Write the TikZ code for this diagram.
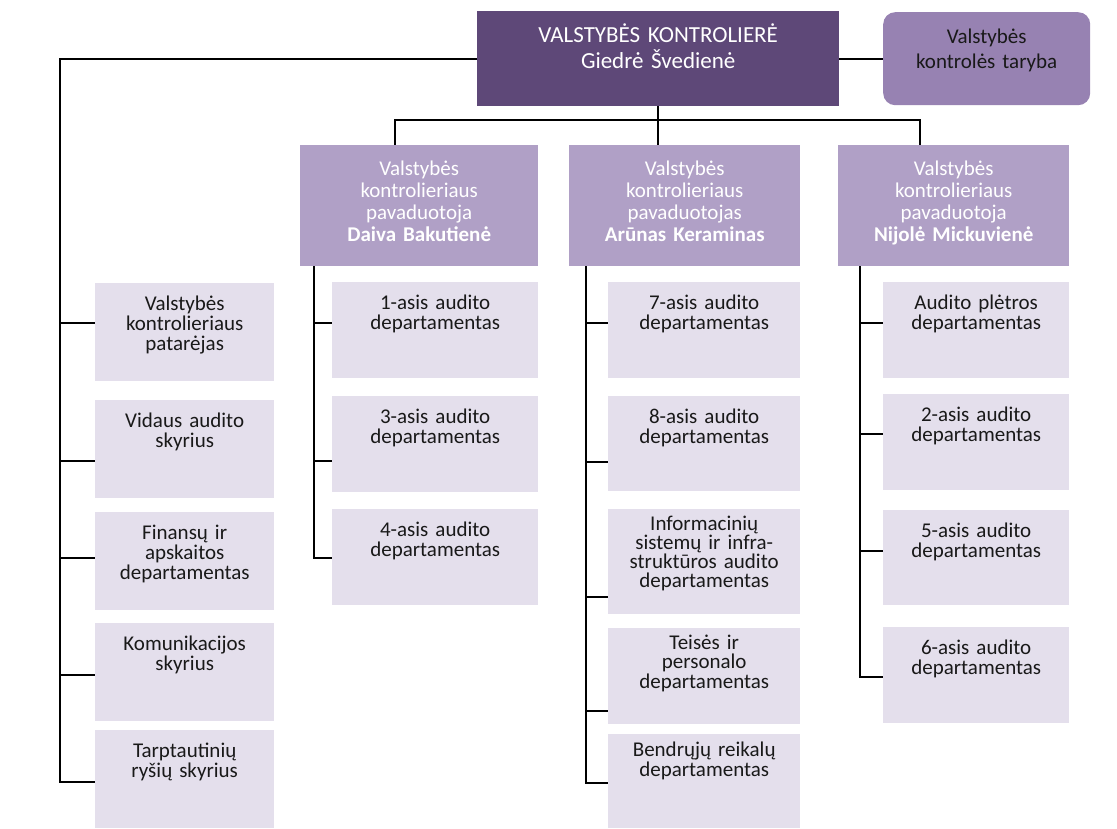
\documentclass[tikz,border=0pt]{standalone}
\usepackage{fontspec}
\setmainfont{Carlito}
\usepackage{xcolor}
\usepackage{tikz}
\definecolor{kontrfill}{HTML}{5E4878}
\definecolor{tarybafill}{HTML}{9782B2}
\definecolor{pavfill}{HTML}{B0A0C6}
\definecolor{deptfill}{HTML}{E4DFEC}
\tikzstyle{head} = [rectangle, fill=kontrfill, text=white, anchor=north west, inner sep=0pt, align=center, font=\fontsize{23}{26}\selectfont]
\tikzstyle{board} = [rectangle, rounded corners=12pt, fill=tarybafill, text=black!90, anchor=north west, inner sep=0pt, align=center, font=\fontsize{21}{25}\selectfont]
\tikzstyle{deputy} = [rectangle, fill=pavfill, text=white, anchor=north west, inner sep=0pt, align=center, text height=30pt, text depth=91pt, font=\fontsize{21}{22}\selectfont]
\tikzstyle{dept} = [rectangle, fill=deptfill, text=black!90, anchor=north west, inner sep=0pt, align=center, text height=27pt, font=\fontsize{21}{20.3}\selectfont]
\tikzstyle{line} = [line width=1.8pt]

\begin{document}
\begin{tikzpicture}[x=1pt, y=-1pt]
\useasboundingbox (0,0) rectangle (1117,829);
% top level
\node (kontr) [head, text width=362pt, text height=31pt, text depth=64pt] at (477,11) {VALSTYBĖS KONTROLIERĖ\\Giedrė Švedienė};
\node (taryba) [board, text width=207pt, text height=31pt, text depth=62pt] at (883,12) {Valstybės\\kontrolės taryba};
\draw [line] (kontr.east) -- (taryba.west);
% deputies
\node (pav1) [deputy, text width=238pt] at (300,145) {Valstybės\\kontrolieriaus\\pavaduotoja\\\textbf{Daiva Bakutienė}};
\node (pav2) [deputy, text width=231pt] at (569,145) {Valstybės\\kontrolieriaus\\pavaduotojas\\\textbf{Arūnas Keraminas}};
\node (pav3) [deputy, text width=231pt] at (838,145) {Valstybės\\kontrolieriaus\\pavaduotoja\\\textbf{Nijolė Mickuvienė}};
\coordinate (busL) at (395,120);
\coordinate (busR) at (920,120);
\draw [line] (kontr.south) -- (kontr.south |- pav2.north);
\draw [line] (busL |- pav1.north) -- (busL) -- (busR) -- (busR |- pav3.north);
% left column
\node (a1) [dept, text width=179pt, text depth=71pt] at (95,283) {Valstybės\\kontrolieriaus\\patarėjas};
\node (a2) [dept, text width=179pt, text depth=71pt] at (95,400) {Vidaus audito\\skyrius};
\node (a3) [dept, text width=179pt, text depth=71pt] at (95,512) {Finansų ir\\apskaitos\\departamentas};
\node (a4) [dept, text width=179pt, text depth=71pt] at (95,623) {Komunikacijos\\skyrius};
\node (a5) [dept, text width=179pt, text depth=71pt] at (95,730) {Tarptautinių\\ryšių skyrius};
\draw [line] (kontr.west) -| (60,782) -- (a5.west |- 0,782);
\foreach \n/\y in {a1/323, a2/461, a3/558, a4/675}
  \draw [line] (60,\y) -- (\n.west |- 0,\y);
% Bakutiene
\node (b1) [dept, text width=206pt, text depth=69pt] at (332,282) {1-asis audito\\departamentas};
\node (b2) [dept, text width=206pt, text depth=69pt] at (332,396) {3-asis audito\\departamentas};
\node (b3) [dept, text width=206pt, text depth=69pt] at (332,509) {4-asis audito\\departamentas};
\draw [line] (pav1.south -| 314,0) |- (b3.west |- 0,558);
\foreach \n/\y in {b1/323, b2/461}
  \draw [line] (314,\y) -- (\n.west |- 0,\y);
% Keraminas
\node (c1) [dept, text width=192pt, text depth=69pt] at (608,282) {7-asis audito\\departamentas};
\node (c2) [dept, text width=192pt, text depth=68pt] at (608,396) {8-asis audito\\departamentas};
\node (c3) [dept, text width=192pt, text height=21pt, text depth=84pt, font=\fontsize{21}{19}\selectfont] at (608,509) {Informacinių\\sistemų ir infra-\\struktūros audito\\departamentas};
\node (c4) [dept, text width=192pt, text height=21pt, text depth=75pt, font=\fontsize{21}{19.5}\selectfont] at (608,628) {Teisės ir\\personalo\\departamentas};
\node (c5) [dept, text width=192pt, text height=22pt, text depth=72pt] at (608,734) {Bendrųjų reikalų\\departamentas};
\draw [line] (pav2.south -| 586,0) |- (c5.west |- 0,783);
\foreach \n/\y in {c1/323, c2/462, c3/597, c4/711}
  \draw [line] (586,\y) -- (\n.west |- 0,\y);
% Mickuviene
\node (d1) [dept, text width=186pt, text depth=69pt] at (883,282) {Audito plėtros\\departamentas};
\node (d2) [dept, text width=186pt, text depth=69pt] at (883,394) {2-asis audito\\departamentas};
\node (d3) [dept, text width=186pt, text depth=68pt] at (883,510) {5-asis audito\\departamentas};
\node (d4) [dept, text width=186pt, text depth=69pt] at (883,627) {6-asis audito\\departamentas};
\draw [line] (pav3.south -| 860,0) |- (d4.west |- 0,677);
\foreach \n/\y in {d1/323, d2/434, d3/551}
  \draw [line] (860,\y) -- (\n.west |- 0,\y);
\end{tikzpicture}
\end{document}
